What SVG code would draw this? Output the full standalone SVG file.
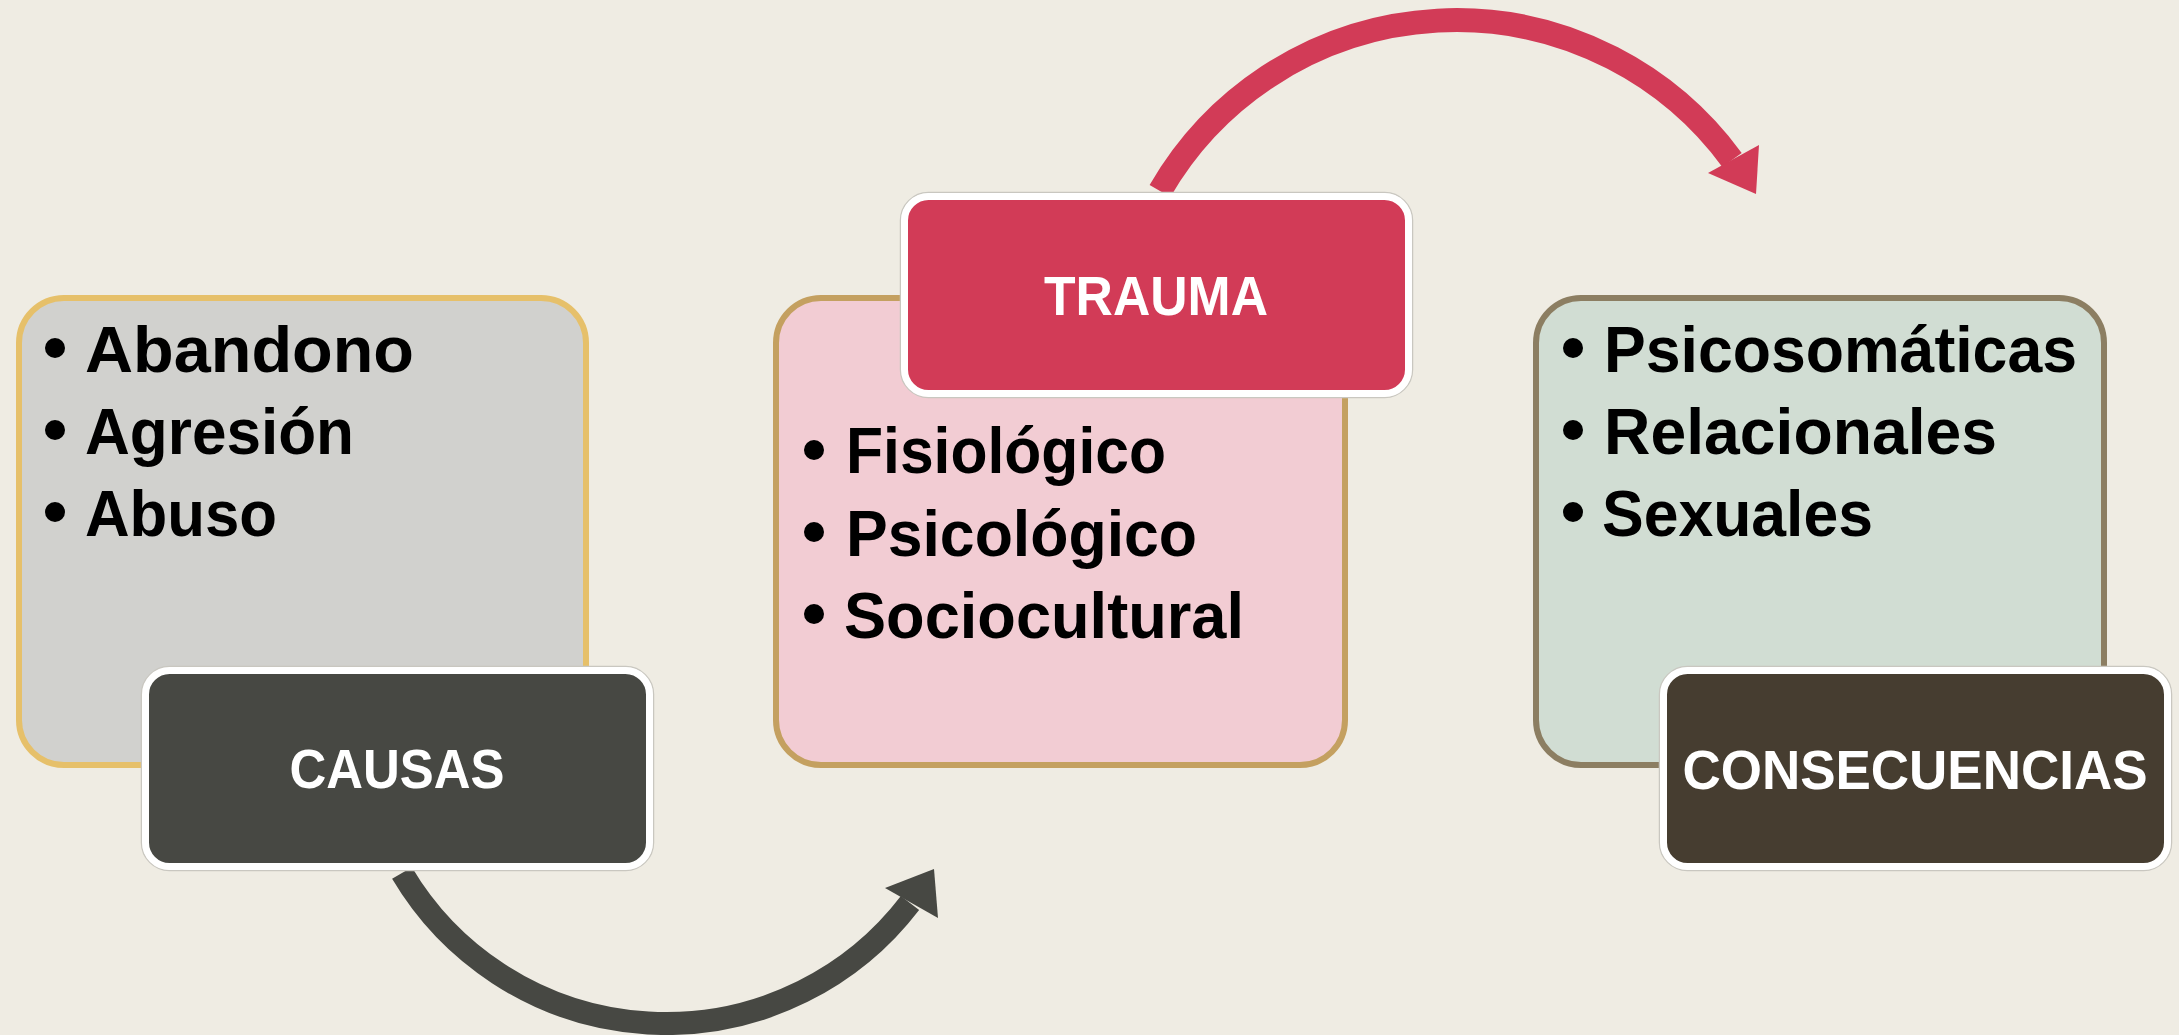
<svg xmlns="http://www.w3.org/2000/svg" width="2179" height="1035" viewBox="0 0 2179 1035">
<style>
.item{font-family:"Liberation Sans","Noto Sans",Arial,sans-serif;font-weight:bold;font-size:64px;fill:#000}
.title{font-family:"Liberation Sans","Noto Sans",Arial,sans-serif;font-weight:bold;font-size:56px;fill:#fff;text-anchor:middle}
.lbl{stroke:#fff;stroke-width:7}
.halo{fill:none;stroke:#c9c7c0;stroke-width:1.5}
.bul{fill:#000}
</style>
<rect x="0" y="0" width="2179" height="1035" fill="#EFECE3"/>
<g id="connectors">
  <path d="M 402 873 A 307 307 0 0 0 910 903" fill="none" stroke="#474843" stroke-width="23"/>
  <polygon points="934,869 885,888 938,918" fill="#474843"/>
  <path d="M 1160 191 A 342 342 0 0 1 1732 160" fill="none" stroke="#D23B57" stroke-width="24"/>
  <polygon points="1756,194 1759,145 1708,173" fill="#D23B57"/>
</g>
<g id="causas-box">
  <rect x="19" y="298" width="567" height="467" rx="45" fill="#D1D1CE" stroke="#E6C06A" stroke-width="6"/>
  <circle class="bul" cx="55" cy="348" r="10"/>
  <text class="item" x="85" y="372" textLength="329" lengthAdjust="spacingAndGlyphs">Abandono</text>
  <circle class="bul" cx="55" cy="430" r="10"/>
  <text class="item" x="85" y="454" textLength="269" lengthAdjust="spacingAndGlyphs">Agresión</text>
  <circle class="bul" cx="55" cy="512" r="10"/>
  <text class="item" x="85" y="536" textLength="192" lengthAdjust="spacingAndGlyphs">Abuso</text>
</g>
<g id="causas">
  <rect class="halo" x="141.5" y="666.5" width="512" height="204" rx="28"/>
  <rect class="lbl" x="145.5" y="670.5" width="504" height="196" rx="24" fill="#474843"/>
  <text class="title" x="397" y="788" textLength="215" lengthAdjust="spacingAndGlyphs">CAUSAS</text>
</g>
<g id="trauma-box">
  <rect x="776" y="298" width="569" height="467" rx="45" fill="#F2CCD3" stroke="#C4A060" stroke-width="6"/>
  <circle class="bul" cx="814" cy="450" r="10"/>
  <text class="item" x="846" y="473" textLength="320" lengthAdjust="spacingAndGlyphs">Fisiológico</text>
  <circle class="bul" cx="814" cy="532" r="10"/>
  <text class="item" x="846" y="556" textLength="351" lengthAdjust="spacingAndGlyphs">Psicológico</text>
  <circle class="bul" cx="814" cy="614" r="10"/>
  <text class="item" x="844" y="638" textLength="400" lengthAdjust="spacingAndGlyphs">Sociocultural</text>
</g>
<g id="trauma">
  <rect class="halo" x="900.5" y="192.5" width="512" height="205" rx="28"/>
  <rect class="lbl" x="904.5" y="196.5" width="504" height="197" rx="24" fill="#D23B57"/>
  <text class="title" x="1156" y="315" textLength="224" lengthAdjust="spacingAndGlyphs">TRAUMA</text>
</g>
<g id="consecuencias-box">
  <rect x="1536" y="298" width="568" height="467" rx="45" fill="#D1DDD3" stroke="#8C7E62" stroke-width="6"/>
  <circle class="bul" cx="1573" cy="348" r="10"/>
  <text class="item" x="1604" y="372" textLength="473" lengthAdjust="spacingAndGlyphs">Psicosomáticas</text>
  <circle class="bul" cx="1573" cy="430" r="10"/>
  <text class="item" x="1604" y="454" textLength="393" lengthAdjust="spacingAndGlyphs">Relacionales</text>
  <circle class="bul" cx="1573" cy="512" r="10"/>
  <text class="item" x="1602" y="536" textLength="271" lengthAdjust="spacingAndGlyphs">Sexuales</text>
</g>
<g id="consecuencias">
  <rect class="halo" x="1659.5" y="666.5" width="512" height="204" rx="28"/>
  <rect class="lbl" x="1663.5" y="670.5" width="504" height="196" rx="24" fill="#463D30"/>
  <text class="title" x="1915" y="789" textLength="465" lengthAdjust="spacingAndGlyphs">CONSECUENCIAS</text>
</g>
</svg>
